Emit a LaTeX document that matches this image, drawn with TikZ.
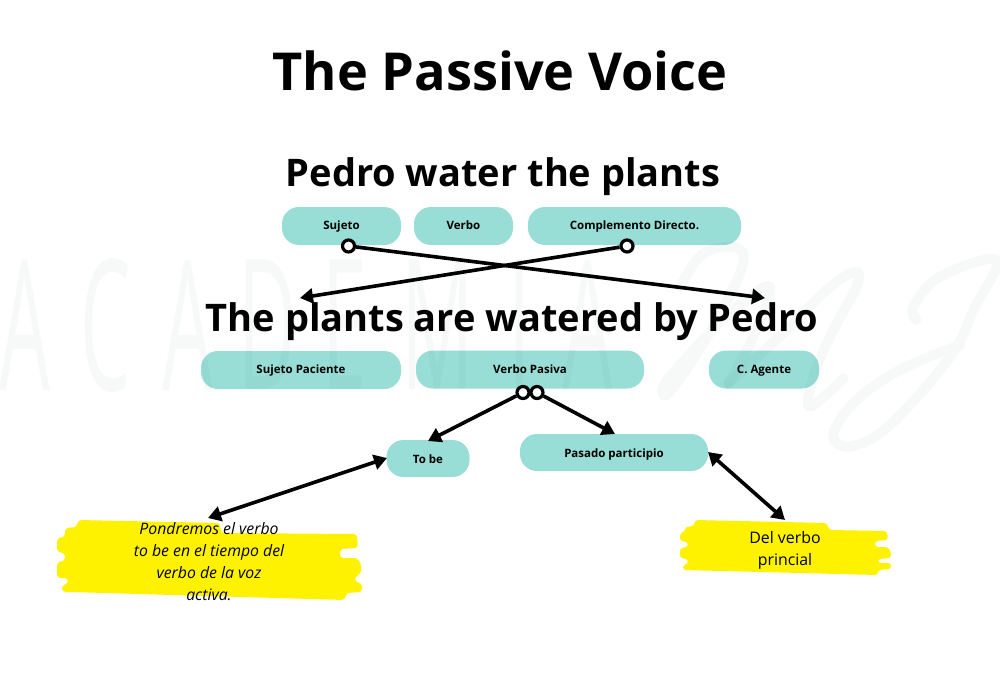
\documentclass[tikz,border=0pt]{standalone}
\usepackage{fontspec}
\setmainfont{Open Sans}
\definecolor{teal1}{HTML}{98DDD6}
\definecolor{yel}{HTML}{FFF200}
\definecolor{wm}{HTML}{3F7F68}
\usetikzlibrary{arrows.meta}
\tikzset{
 pill/.style={fill=teal1,rounded corners=17pt,inner sep=0pt,text height=9pt,text depth=1.4pt,font=\fontsize{11.5}{13}\selectfont\bfseries},
 pilltop/.style={pill,text height=8.6pt,text depth=2pt},
 pilllow/.style={pill,text height=9.8pt,text depth=.2pt},
 big/.style={inner sep=0pt,font=\fontsize{38}{40}\selectfont\bfseries},
 dot/.style={circle,draw=black,fill=white,line width=3.2pt,minimum size=12pt,inner sep=0pt},
 conn/.style={draw=black,line width=3.6pt},
 tip/.style={-{Triangle[length=13pt,width=15pt]}},
 tipb/.style={{Triangle[length=13pt,width=15pt]}-{Triangle[length=13pt,width=15pt]}},
 wmt/.style={text=wm,text opacity=.04,font=\fontsize{182}{182}\selectfont,inner sep=0pt,xscale=.44,anchor=center},
 wms/.style={draw=wm,draw opacity=.04,line width=10pt,line cap=round,line join=round},
 lab/.style={align=center,inner sep=0pt}
}
\begin{document}
\begin{tikzpicture}[x=1pt,y=-1pt]
\useasboundingbox (0,0) rectangle (1000,690);
\fill[white] (0,0) rectangle (1000,690);
% pills
\node[pilltop,minimum width=119pt,minimum height=38pt] (suj) at (341.5,226) {Sujeto};
\node[pilltop,minimum width=99pt,minimum height=38pt] (verb) at (463.5,226) {Verbo};
\node[pilltop,minimum width=213pt,minimum height=38pt] (cd) at (634.5,226) {Complemento Directo.};
\node[pill,minimum width=200pt,minimum height=38pt] (sp) at (301,370) {Sujeto Paciente};
\node[pill,minimum width=228pt,minimum height=38pt] (vp) at (530,369.5) {Verbo Pasiva};
\node[pill,minimum width=110pt,minimum height=38pt] (ca) at (764,369.5) {C. Agente};
\node[pilllow,minimum width=83pt,minimum height=37pt] (tb) at (428,458.5) {To be};
\node[pilllow,minimum width=188pt,minimum height=37pt] (pp) at (614,452.5) {Pasado participio};
% watermark, over the pills
\foreach \c/\xx in {A/25,C/106,A/188,D/268,E/345,M/438,I/520,A/588}{
 \node[wmt] at (\xx,325) {\c};}
\begin{scope}[shift={(640,230)},x=.3333pt,y=-.3333pt]
\draw[wms] plot[smooth,tension=.6] coordinates {(120,170) (190,70) (295,55) (300,130) (190,340) (85,490) (75,460) (170,350) (280,240) (390,170) (340,320) (265,460)};
\draw[wms] plot[smooth,tension=.6] coordinates {(265,460) (440,300) (560,180) (645,125) (650,170) (580,300) (520,440) (510,530) (610,445)};
\draw[wms] plot[smooth,tension=.6] coordinates {(830,270) (820,230) (900,140) (1070,90) (1000,240) (950,350) (850,480) (720,610) (620,650) (580,610) (650,510) (780,420) (960,345)};
\end{scope}
% titles
\node[inner sep=0pt,font=\fontsize{52.3}{56}\selectfont\bfseries] (title) at (500,71) {The Passive Voice};
\node[big] (s1) at (503,176.5) {Pedro water the plants};
\node[big] (s2) at (512,321.5) {The plants are watered by Pedro};
% yellow brush notes
\fill[yel,rounded corners=3.5pt] (78,520) -- (220,523) -- (221,533) -- (357,534) -- (358,548) -- (340,549) -- (340,558) -- (358,558) -- (362,567) -- (360,575) -- (355,576) -- (355,582) -- (362,583) -- (362,592) -- (346,593) -- (345,600) -- (70,592) -- (62,592) -- (62,585) -- (68,584) -- (68,578) -- (57,578) -- (57,562) -- (65,561) -- (65,553) -- (57,552) -- (57,538) -- (65,537) -- (65,528) -- (77,527) -- cycle;
\fill[yel,rounded corners=3pt] (695,520) -- (827,523) -- (829,530) -- (887,531) -- (888,540) -- (875,541) -- (875,547) -- (888,547) -- (891,552) -- (891,558) -- (878,559) -- (878,563) -- (891,563) -- (891,569) -- (878,570) -- (878,575) -- (683,570) -- (683,565) -- (688,564) -- (688,559) -- (680,558) -- (680,548) -- (688,547) -- (688,542) -- (680,541) -- (680,533) -- (685,532) -- (685,527) -- (694,526) -- cycle;
\node[lab,font=\fontsize{15.8}{22}\selectfont\itshape] (n1) at (209,562) {Pondremos el verbo\\to be en el tiempo del\\verbo de la voz\\activa.};
\node[lab,font=\fontsize{15.9}{22.5}\selectfont] (n2) at (785,550.5) {Del verbo\\princial};
% free connector ends
\coordinate (dl) at (300,298);
\coordinate (dr) at (765,298);
\coordinate (n1t) at (208,518);
\coordinate (n2t) at (785,520);
\coordinate (tbt) at (428,441);
\coordinate (ppt) at (615,434);
\coordinate (tbl) at (387,458);
\coordinate (ppr) at (708,452);
% connectors
\node[dot] (d1) at (348.5,246) {};
\node[dot] (d2) at (627,246) {};
\node[dot] (d3) at (523,392.5) {};
\node[dot] (d4) at (537,392.5) {};
\draw[conn,tip] (d1) -- (dr);
\draw[conn,tip] (d2) -- (dl);
\draw[conn,tip] (d3) -- (tbt);
\draw[conn,tip] (d4) -- (ppt);
\draw[conn,tipb] (n1t) -- (tbl);
\draw[conn,tipb] (ppr) -- (n2t);
\end{tikzpicture}
\end{document}
